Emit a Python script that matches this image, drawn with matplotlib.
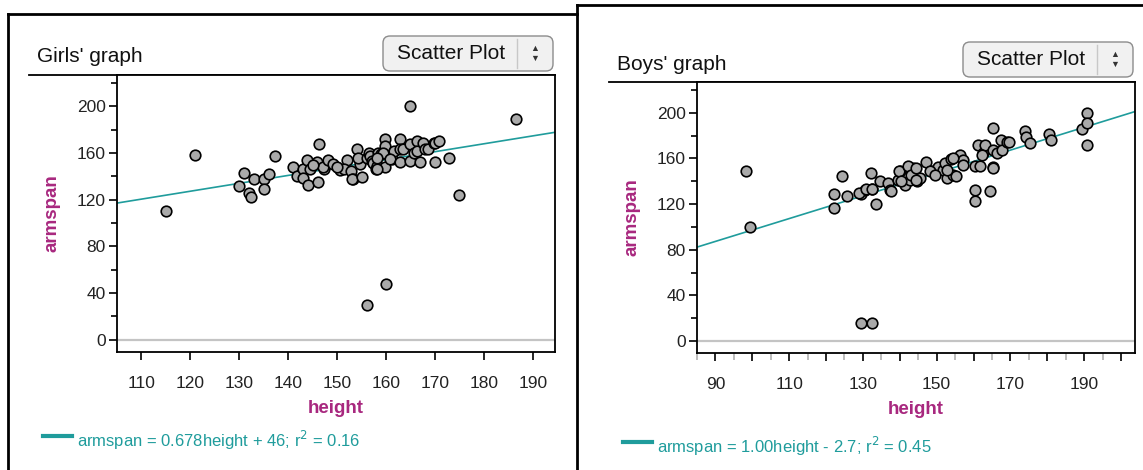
import matplotlib
matplotlib.use("Agg")
import matplotlib.pyplot as plt
from matplotlib.patches import FancyBboxPatch
from matplotlib.ticker import MultipleLocator, FixedLocator

plt.rcParams['font.family'] = ['Liberation Sans', 'DejaVu Sans']

###############
# data (height, armspan)
girls_height = [115, 121, 131, 130, 132, 132.3, 133, 135, 135, 136, 137.3,
                141, 141.7, 143, 143.9, 143.1, 144.1, 144.4, 146.2, 146.1, 145.8,
                147.2, 147, 148.2, 149.2, 150.6, 151.9, 151.3, 152.9, 153.3, 153.1,
                154, 154.7, 154.7, 154.3, 155, 156, 156.4, 156.7, 157.1, 157.4, 158,
                158.4, 158.1, 159, 159.8, 159.8, 159.8, 159.4, 161.2, 161.5, 160.8,
                162.9, 162.9, 162.9, 163.5, 164.9, 164.9, 164.9, 165.6, 166.3, 166.3,
                166.9, 167.6, 168, 168.6, 169.7, 170, 170, 170.7, 172.8, 174.8, 186.6,
                156, 160, 158.1, 158.1, 145, 150]
girls_armspan = [110, 158, 143, 132, 125.5, 122, 138, 138, 129.5, 142, 157.6,
                 148.5, 140, 146, 154, 139, 133, 146, 168, 135, 152,
                 146, 148.4, 154, 151, 145.6, 154.4, 146, 144.6, 137.5, 138,
                 163.3, 153.3, 150.3, 156, 139.5, 156, 160.4, 157.5, 153.2, 151.9, 146.7,
                 160.4, 148.9, 159, 172, 166, 148.4, 160.4, 155.3, 161.9, 154.6,
                 172.4, 152.4, 163.3, 163.2, 200, 167.6, 153.3, 160.4, 170.5, 161.9,
                 152.3, 168.4, 163.2, 163.3, 169, 169, 152.4, 170.4, 155.6, 124, 189,
                 30, 48, 146, 156.1, 150, 148]

boys_height = [98.3, 99.4, 129.4, 132.4, 122.2, 122.2, 124.4, 125.8, 129.4, 130.6,
               132.2, 132.4, 133.5, 134.5, 136.7, 137.4, 139.5, 140.1, 141.3, 142.5,
               142.7, 143.6, 143.6, 144.7, 145.4, 147.2, 149, 150.4, 151.8, 152.4,
               152.7, 154, 154.5, 155.2, 156.3, 157.2, 160.4, 160.4, 160.4, 161.3,
               161.8, 162.5, 163.1, 164.5, 165.2, 165.2, 165.2, 166.3, 167.4, 167.7,
               169.1, 169.5, 174, 174.3, 175.4, 180.4, 180.9, 189.3, 190.9, 190.9,
               190.9, 129, 130.8, 132.6, 137.6, 139.9, 140.4, 142.2, 143.1, 144.5,
               148.1, 149.5, 152.7, 154.5, 157.2, 162.2, 165.4, 144.5]
boys_armspan = [148.6, 100, 16, 16, 129, 117, 145, 127.4, 129, 132.7,
                147, 133, 120.5, 140, 138.5, 132.7, 141.4, 148.6, 137, 151.5,
                141.4, 151.5, 145.7, 140, 142.8, 156.5, 148.6, 152.4, 149.5, 156,
                142.8, 159.4, 145.7, 144.8, 163, 158.8, 153.6, 132, 123, 171.8,
                153.6, 164.6, 171.8, 131.2, 187, 167.5, 152.4, 164.6, 176, 167.5,
                174, 174.7, 184.3, 179, 173.3, 181.4, 176.2, 185.5, 200, 190.7,
                171.8, 129.8, 133.3, 133.3, 131.2, 148.6, 139.9, 153, 145.7, 151.6,
                148.6, 145.7, 150.1, 160.3, 154.4, 163.2, 151.6, 141.4]

# fitted lines as printed under each graph
girls_fit = (0.678, 46)
boys_fit = (1.00, -2.7)
girls_eq = "armspan = 0.678height + 46; r$^2$ = 0.16"
boys_eq = "armspan = 1.00height - 2.7; r$^2$ = 0.45"

W, H = 1143, 470
TEAL = '#1f9c9c'
MAGENTA = '#a8287f'

fig = plt.figure(figsize=(W / 100, H / 100), dpi=100)

# background layer in pixel coordinates (frames, titles, buttons, legends)
bg = fig.add_axes([0, 0, 1, 1])
bg.set_xlim(0, W)
bg.set_ylim(H, 0)
bg.axis('off')

# panel frames
bg.plot([8, 8], [14, H], color='black', lw=2)
bg.plot([8, 577], [14, 14], color='black', lw=2)
bg.plot([577, 577], [5, H], color='black', lw=2)
bg.plot([577, W], [5, 5], color='black', lw=2)


def draw_button(x0, y0, w, h):
    box = FancyBboxPatch((x0, y0), w, h, boxstyle="round,pad=0,rounding_size=7",
                         fc='#f1f1f1', ec='#8c8c8c', lw=1)
    bg.add_patch(box)
    bg.plot([x0 + w - 36, x0 + w - 36], [y0 + 3, y0 + h - 3], color='#c8c8c8', lw=1)
    bg.text(x0 + (w - 36) / 2 + 1, y0 + h / 2, "Scatter Plot", fontsize=15,
            ha='center', va='center', color='#111111')
    bg.text(x0 + w - 18, y0 + h / 2 - 5, "\u25b2", fontsize=6.5, ha='center',
            va='center', color='#333333')
    bg.text(x0 + w - 18, y0 + h / 2 + 5, "\u25bc", fontsize=6.5, ha='center',
            va='center', color='#333333')


def draw_panel(rect, title, title_xy, button_xy, hx, ay, fit, xlim, eq, eq_xy):
    x0, y0, x1, y1 = rect
    bg.text(title_xy[0], title_xy[1], title, fontsize=15, ha='left', va='center',
            color='#111111')
    bg.plot([title_xy[0] - 8, x1], [y0, y0], color='black', lw=1.3)
    draw_button(button_xy[0], button_xy[1], 170, 35)

    ax = fig.add_axes([x0 / W, 1 - y1 / H, (x1 - x0) / W, (y1 - y0) / H])
    ax.set_xlim(*xlim)
    ax.set_ylim(-10.5, 227)
    ax.axhline(0, color='#c4c4c4', lw=1.6, zorder=1)
    xs = [xlim[0], xlim[1]]
    ax.plot(xs, [fit[0] * v + fit[1] for v in xs], color=TEAL, lw=1.2, zorder=2)
    ax.scatter(hx, ay, s=58, c='#aaaaaa', edgecolors='black', linewidths=1.2,
               zorder=3, clip_on=False)

    for s in ax.spines.values():
        s.set_linewidth(1.3)
    ax.yaxis.set_major_locator(MultipleLocator(40))
    ax.yaxis.set_minor_locator(FixedLocator([20, 60, 100, 140, 180, 220]))
    ax.tick_params(axis='both', which='major', direction='out', length=6, width=1.2,
                   labelsize=12.5, labelcolor='#222222')
    ax.tick_params(axis='x', which='major', pad=11)
    ax.tick_params(axis='y', which='major', pad=2)
    ax.tick_params(axis='y', which='minor', direction='out', length=4, width=1.2)
    ax.set_ylabel("armspan", fontsize=13.5, fontweight='bold', color=MAGENTA,
                  labelpad=12)
    ax.set_xlabel("height", fontsize=13.5, fontweight='bold', color=MAGENTA,
                  labelpad=7)

    bg.plot([eq_xy[0] - 34, eq_xy[0] - 5], [eq_xy[1] - 4, eq_xy[1] - 4],
            color=TEAL, lw=3)
    bg.text(eq_xy[0], eq_xy[1], eq, fontsize=12, color=TEAL, ha='left',
            va='center')
    return ax


axg = draw_panel((117, 75, 555, 352), "Girls' graph", (37, 57), (383, 36),
                 girls_height, girls_armspan, girls_fit, (105, 194.5),
                 girls_eq, (77, 440))
axg.xaxis.set_major_locator(MultipleLocator(10))

axb = draw_panel((697, 82, 1135, 353), "Boys' graph", (617, 64), (963, 42),
                 boys_height, boys_armspan, boys_fit, (85, 203.8),
                 boys_eq, (657, 446))
axb.xaxis.set_minor_locator(FixedLocator([85 + 10 * i for i in range(12)]))
axb.tick_params(axis='x', which='minor', direction='out', length=5, width=1.2,
                color='#b0b0b0')
boys_xticks = list(range(90, 201, 10))
axb.set_xticks(boys_xticks)
axb.set_xticklabels([str(v) if (v - 90) % 20 == 0 else '' for v in boys_xticks])

fig.savefig("out.png", dpi=100)
